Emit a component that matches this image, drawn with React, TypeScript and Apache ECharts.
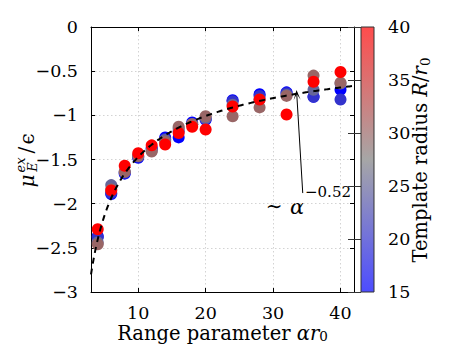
import React, { useEffect, useRef } from "react";
import * as echarts from "echarts";

// Range parameter alpha*r0 at which the excess chemical potential was sampled
const ALPHA_R0 = [4, 6, 8, 10, 12, 14, 16, 18, 20, 24, 28, 32, 36, 40];

// Template radii R/r0 (one series each) and the measured mu_E^ex / epsilon
const TEMPLATE_RADII = [15, 20, 25, 30, 40];
const MU_R15 = [-2.37, -1.89, -1.66, -1.48, -1.37, -1.25, -1.25, -1.08, -1.05, -0.83, -0.76, -0.74, -0.79, -0.71];
const MU_R20 = [-2.38, -1.88, -1.65, -1.47, -1.38, -1.27, -1.18, -1.1, -1.04, -0.84, -0.78, -0.75, -0.79, -0.82];
const MU_R25 = [-2.44, -1.79, -1.64, -1.46, -1.4, -1.28, -1.15, -1.1, -1.03, -0.88, -0.82, -0.77, -0.71, -0.64];
const MU_R30 = [-2.46, -1.84, -1.64, -1.46, -1.41, -1.3, -1.13, -1.1, -1.01, -1.01, -0.91, -0.78, -0.55, -0.63];
const MU_R40 = [-2.29, -1.85, -1.57, -1.43, -1.34, -1.33, -1.2, -1.13, -1.16, -0.9, -0.82, -0.99, -0.62, -0.51];
const MU_BY_RADIUS = [MU_R15, MU_R20, MU_R25, MU_R30, MU_R40];

// Power-law fit  mu ~ offset - scale * alpha^exponent
const FIT_EXPONENT = -0.52;
const FIT_SCALE = 5.065;
const FIT_OFFSET = 0.059;
const FIT_RANGE = [3, 42];

// Axis ranges and ticks
const X_RANGE = [3, 42];
const X_TICKS = [10, 20, 30, 40];
const Y_RANGE = [-3, 0];
const Y_STEP = 0.5;
const R_RANGE = [15, 40];
const R_STEP = 5;

// Colormap: blue -> gray -> red
const COLORMAP = ["#0000ff", "#808080", "#ff0000"];

// Arrow of the fit annotation, in data coordinates (tail, head)
const ARROW_TAIL = [34.4, -1.88];
const ARROW_HEAD = [33.52, -0.77];

const FONT = "'DejaVu Serif', 'Liberation Serif', serif";
const TICK_SIZE = 17.5;
const TITLE_SIZE = 19.5;

function withAlpha(hex: string, a: number) {
  const n = parseInt(hex.slice(1), 16);
  return `rgba(${(n >> 16) & 255},${(n >> 8) & 255},${n & 255},${a})`;
}

function centered(text: string, x: number, y: number, fontSize: number, italic = false) {
  return {
    type: "text",
    x,
    y,
    style: {
      text,
      fontFamily: FONT,
      fontSize,
      fontStyle: italic ? "italic" : "normal",
      fill: "#000",
      align: "center",
      verticalAlign: "middle",
      textAlign: "center",
      textVerticalAlign: "middle",
    },
  };
}

function buildOption() {
  const fitData: number[][] = [];
  for (let x = FIT_RANGE[0]; x <= FIT_RANGE[1] + 1e-9; x += 0.1) {
    fitData.push([x, FIT_OFFSET - FIT_SCALE * Math.pow(x, FIT_EXPONENT)]);
  }

  const scatterSeries = TEMPLATE_RADII.map((r, i) => ({
    type: "scatter",
    name: `R=${r}`,
    xAxisIndex: 0,
    yAxisIndex: 0,
    symbol: "circle",
    symbolSize: 12,
    z: 3 + i * 0.01,
    itemStyle: { opacity: 1 },
    data: ALPHA_R0.map((a, j) => [a, MU_BY_RADIUS[i][j], r]),
  }));

  const gridLine = { show: true, lineStyle: { color: "#c8c8c8", width: 0.8, type: [1.5, 2.5] } };
  const frame = { show: true, onZero: false, lineStyle: { color: "#000", width: 1 } };
  const labelStyle = { fontFamily: FONT, fontSize: TICK_SIZE, color: "#000" };
  const minus = (v: number) => String(v).replace("-", "\u2212");

  return {
    animation: false,
    backgroundColor: "#fff",
    grid: [
      { left: 91, top: 27, width: 263, height: 265 },
      { left: 361, top: 27, width: 13, height: 265 },
    ],
    xAxis: [
      {
        type: "value",
        gridIndex: 0,
        min: X_RANGE[0],
        max: X_RANGE[1],
        position: "bottom",
        axisLine: frame,
        axisTick: { show: true, inside: true, length: 4, customValues: X_TICKS, lineStyle: { color: "#000" } },
        axisLabel: { ...labelStyle, margin: 12, customValues: X_TICKS },
        splitLine: gridLine,
        name: "Range parameter {it|α}{it|r}{sub|0}",
        nameLocation: "middle",
        nameGap: 31,
        nameMoveOverlap: false,
        nameTextStyle: {
          fontFamily: FONT,
          fontSize: TITLE_SIZE,
          color: "#000",
          lineHeight: 20,
          rich: {
            it: { fontFamily: FONT, fontSize: TITLE_SIZE, fontStyle: "italic", color: "#000", lineHeight: 20 },
            sub: { fontFamily: FONT, fontSize: 13.5, color: "#000", lineHeight: 12, verticalAlign: "bottom" },
          },
        },
      },
      {
        type: "value",
        gridIndex: 0,
        min: X_RANGE[0],
        max: X_RANGE[1],
        position: "top",
        axisLine: frame,
        axisTick: { show: true, inside: true, length: 4, customValues: X_TICKS, lineStyle: { color: "#000" } },
        axisLabel: { show: false, customValues: X_TICKS },
        splitLine: { show: false },
      },
      {
        type: "value",
        gridIndex: 1,
        min: 0,
        max: 1,
        show: false,
      },
    ],
    yAxis: [
      {
        type: "value",
        gridIndex: 0,
        min: Y_RANGE[0],
        max: Y_RANGE[1],
        interval: Y_STEP,
        position: "left",
        axisLine: frame,
        axisTick: { show: true, inside: true, length: 4, lineStyle: { color: "#000" } },
        axisLabel: { ...labelStyle, margin: 13, formatter: minus },
        splitLine: gridLine,
      },
      {
        type: "value",
        gridIndex: 0,
        min: Y_RANGE[0],
        max: Y_RANGE[1],
        interval: Y_STEP,
        position: "right",
        axisLine: frame,
        axisTick: { show: true, inside: true, length: 4, lineStyle: { color: "#000" } },
        axisLabel: { show: false },
        splitLine: { show: false },
      },
      {
        type: "value",
        gridIndex: 1,
        min: R_RANGE[0],
        max: R_RANGE[1],
        interval: R_STEP,
        position: "right",
        z: 10,
        axisLine: { show: false },
        axisTick: { show: true, inside: true, length: 13, lineStyle: { color: "#333", width: 1 } },
        axisLabel: { ...labelStyle, margin: 14 },
        splitLine: { show: false },
      },
    ],
    visualMap: {
      type: "continuous",
      show: false,
      dimension: 2,
      min: R_RANGE[0],
      max: R_RANGE[1],
      seriesIndex: TEMPLATE_RADII.map((_, i) => i),
      inRange: { color: COLORMAP },
    },
    series: [
      ...scatterSeries,
      {
        type: "line",
        name: "fit",
        xAxisIndex: 0,
        yAxisIndex: 0,
        data: fitData,
        showSymbol: false,
        symbol: "none",
        z: 5,
        lineStyle: { color: "#000", width: 2, type: [6, 5] },
        markLine: {
          silent: true,
          animation: false,
          symbol: ["none", "path://M0,10 L5,0 L10,10 L5,4 Z"],
          symbolSize: [7, 10],
          label: { show: false },
          lineStyle: { color: "#000", width: 1, type: "solid" },
          data: [[{ coord: ARROW_TAIL }, { coord: ARROW_HEAD }]],
        },
      },
      {
        type: "custom",
        name: "colorbar",
        xAxisIndex: 2,
        yAxisIndex: 2,
        z: 1,
        silent: true,
        data: [[0, R_RANGE[0], 1, R_RANGE[1]]],
        encode: { x: [0, 2], y: [1, 3] },
        renderItem: (_params: any, api: any) => {
          const p0 = api.coord([api.value(0), api.value(3)]);
          const p1 = api.coord([api.value(2), api.value(1)]);
          return {
            type: "rect",
            shape: { x: p0[0], y: p0[1], width: p1[0] - p0[0], height: p1[1] - p0[1] },
            style: {
              fill: new echarts.graphic.LinearGradient(0, 0, 0, 1, [
                { offset: 0, color: withAlpha(COLORMAP[2], 0.7) },
                { offset: 0.5, color: withAlpha(COLORMAP[1], 0.7) },
                { offset: 1, color: withAlpha(COLORMAP[0], 0.7) },
              ]),
              stroke: "#333",
              lineWidth: 1,
            },
          };
        },
      },
    ],
    graphic: [
      // y-axis title: mu_E^ex / epsilon, rotated
      {
        type: "group",
        x: 26,
        y: 162,
        rotation: Math.PI / 2,
        children: [
          centered("μ", -19, 1, 20, true),
          centered("ex", -3, -6, 13, true),
          centered("E", -5, 6, 13, true),
          centered("/", 12, 0, 20),
          centered("ϵ", 23, 1, 20),
        ],
      },
      // colorbar title
      {
        type: "text",
        x: 420,
        y: 160,
        rotation: Math.PI / 2,
        style: {
          text: "Template radius {it|R}/{it|r}{sub|0}",
          fontFamily: FONT,
          fontSize: TITLE_SIZE,
          fill: "#000",
          lineHeight: 24,
          align: "center",
          verticalAlign: "middle",
          textAlign: "center",
          textVerticalAlign: "middle",
          rich: {
            it: { fontFamily: FONT, fontSize: TITLE_SIZE, fontStyle: "italic", fill: "#000", lineHeight: 24 },
            sub: { fontFamily: FONT, fontSize: 13.5, fill: "#000", lineHeight: 14, verticalAlign: "bottom" },
          },
        },
      },
      // fit annotation
      centered("∼", 274, 206, 20),
      centered("α", 297, 207, 21, true),
      {
        type: "text",
        x: 305,
        y: 192,
        style: {
          text: "\u22120.52",
          fontFamily: FONT,
          fontSize: 15,
          fill: "#000",
          align: "left",
          verticalAlign: "middle",
          textAlign: "left",
          textVerticalAlign: "middle",
        },
      },
    ],
  };
}

export default function App() {
  const ref = useRef<HTMLDivElement>(null);
  useEffect(() => {
    document.body.style.margin = "0";
    const chart = echarts.init(ref.current!, null, { renderer: "svg" });
    chart.setOption(buildOption() as any);
    return () => chart.dispose();
  }, []);
  return <div ref={ref} style={{ width: 473, height: 355 }} />;
}
